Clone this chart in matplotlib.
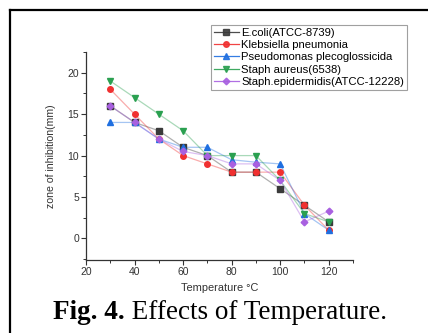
import matplotlib
matplotlib.use("Agg")
import matplotlib.pyplot as plt
from matplotlib.lines import Line2D
from matplotlib.ticker import MultipleLocator

plt.rcParams['font.family'] = ['Liberation Sans', 'DejaVu Sans']

temperature = [30, 40, 50, 60, 70, 80, 90, 100, 110, 120]
ecoli = [16, 14, 13, 11, 10, 8, 8, 6, 4, 2]
klebsiella = [18, 15, 12, 10, 9, 8, 8, 8, 4, 1]
pseudomonas = [14, 14, 12, 11, 11, 9.5, 9.2, 9, 3, 1]
staph_aureus = [19, 17, 15, 13, 10, 10, 10, 7, 3, 2]
staph_epi = [16, 14, 12, 10.5, 10, 9, 9, 7, 2, 3.3]

series = [
    ("E.coli(ATCC-8739)", ecoli, "#3a3a3a", "s"),
    ("Klebsiella pneumonia", klebsiella, "#f03030", "o"),
    ("Pseudomonas plecoglossicida", pseudomonas, "#1f6fe0", "^"),
    ("Staph aureus(6538)", staph_aureus, "#2aa050", "v"),
    ("Staph.epidermidis(ATCC-12228)", staph_epi, "#a860e0", "D"),
]

fig = plt.figure(figsize=(4.28, 3.33), dpi=100)
W, H = 428, 333
ax = fig.add_axes([86 / W, 1 - 260 / H, (353 - 86) / W, (260 - 52) / H])

handles = []
for label, vals, col, mk in series:
    ms = 4.0 if mk != "D" else 3.4
    ax.plot(temperature, vals, color=col, alpha=0.4, lw=0.9, zorder=2)
    ax.plot(temperature, vals, linestyle='none', marker=mk, color=col,
            markersize=ms, zorder=3)
    handles.append(Line2D([], [], color=col, lw=0.9, marker=mk, markersize=ms,
                          markerfacecolor=col, markeredgecolor=col, alpha=0.9))

ax.set_xlim(20, 130)
ax.set_ylim(-2.6, 22.5)
ax.xaxis.set_major_locator(MultipleLocator(20))
ax.xaxis.set_minor_locator(MultipleLocator(10))
ax.yaxis.set_major_locator(MultipleLocator(5))
ax.yaxis.set_minor_locator(MultipleLocator(2.5))
ax.spines['top'].set_visible(False)
ax.spines['right'].set_visible(False)
for s in ('left', 'bottom'):
    ax.spines[s].set_linewidth(0.9)
    ax.spines[s].set_color('#333333')
ax.tick_params(which='major', direction='out', length=3.5, width=0.8,
               labelsize=7.5, colors='#333333', pad=1.5)
ax.tick_params(which='minor', direction='out', length=2, width=0.7, colors='#333333')
ax.set_xlabel("Temperature °C", fontsize=7.9, color='#333333', labelpad=4.5)
ax.set_ylabel("zone of inhibition(mm)", fontsize=7.6, color='#333333', labelpad=8)

leg = fig.legend(handles, [s[0] for s in series], loc='upper left',
                 bbox_to_anchor=(211 / W, 1 - 25 / H), fontsize=8.1,
                 frameon=True, fancybox=False, handlelength=2.2,
                 handletextpad=0.25, borderpad=0.25, labelspacing=0.2,
                 borderaxespad=0)
leg.get_frame().set_edgecolor('#888888')
leg.get_frame().set_linewidth(0.8)

# caption: bold part + regular part, centred as a whole
cap_y = 1 - 319 / H
fs = 19.5
t1 = fig.text(0, cap_y, "Fig. 4.", fontsize=fs, fontweight='bold',
              family=['Liberation Serif'], ha='left', va='baseline')
t2 = fig.text(0, cap_y, " Effects of Temperature.", fontsize=fs,
              family=['Liberation Serif'], ha='left', va='baseline')
fig.canvas.draw()
r = fig.canvas.get_renderer()
w1 = t1.get_window_extent(r).width
w2 = t2.get_window_extent(r).width
x0 = 220 - (w1 + w2) / 2
t1.set_x(x0 / W)
t2.set_x((x0 + w1) / W)

# border lines (top and left)
fig.add_artist(Line2D([9.5 / W, 1], [1 - 9.5 / H, 1 - 9.5 / H],
                      transform=fig.transFigure, color='black', lw=1.6))
fig.add_artist(Line2D([9.5 / W, 9.5 / W], [0, 1 - 9.5 / H],
                      transform=fig.transFigure, color='black', lw=1.6))

fig.savefig("out.png", dpi=100)
